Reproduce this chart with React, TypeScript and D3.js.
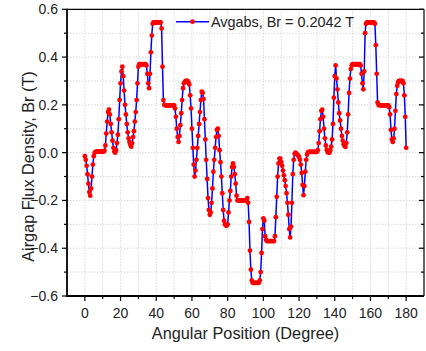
import React from 'react';
import * as d3 from 'd3';

// Radial airgap flux density sampled every half degree, in three 60° segments.
const ANGLE_STEP = 0.5;
const segmentStarts = [0, 60, 120];

// 0° – 59.5°
const brSeg1 = [
  -0.015, -0.03, -0.055, -0.09, -0.13, -0.165, -0.18, -0.15, -0.1, -0.05,
  -0.015, 0.0, 0.003, 0.004, 0.004, 0.004, 0.004, 0.004, 0.004, 0.004,
  0.004, 0.005, 0.008, 0.03, 0.08, 0.13, 0.17, 0.18, 0.16, 0.12,
  0.085, 0.05, 0.02, 0.005, 0.0, 0.01, 0.04, 0.075, 0.14, 0.22,
  0.29, 0.34, 0.36, 0.32, 0.26, 0.2, 0.16, 0.12, 0.085, 0.06,
  0.045, 0.032, 0.025, 0.04, 0.065, 0.09, 0.13, 0.17, 0.22, 0.29,
  0.36, 0.37, 0.37, 0.37, 0.37, 0.37, 0.37, 0.37, 0.37, 0.365,
  0.33, 0.29, 0.27, 0.33, 0.42, 0.49, 0.54, 0.545, 0.545, 0.545,
  0.545, 0.545, 0.545, 0.545, 0.545, 0.545, 0.52, 0.36, 0.22, 0.2,
  0.198, 0.198, 0.198, 0.198, 0.198, 0.198, 0.198, 0.198, 0.198, 0.198,
  0.198, 0.185, 0.15, 0.1, 0.065, 0.045, 0.07, 0.115, 0.165, 0.22,
  0.27, 0.29, 0.295, 0.3, 0.3, 0.3, 0.295, 0.285, 0.24, 0.185,
];

// 60° – 119.5°
const brSeg2 = [
  0.1, 0.02, -0.05, -0.1, -0.075, -0.03, 0.02, 0.07, 0.12, 0.17,
  0.22, 0.255, 0.25, 0.225, 0.14, 0.055, -0.03, -0.11, -0.19, -0.24,
  -0.26, -0.25, -0.21, -0.15, -0.08, -0.03, 0.02, 0.065, 0.095, 0.1,
  0.07, 0.01, -0.04, -0.1, -0.17, -0.24, -0.285, -0.3, -0.305, -0.305,
  -0.3, -0.25, -0.2, -0.16, -0.1, -0.06, -0.045, -0.06, -0.09, -0.13,
  -0.18, -0.2, -0.2, -0.2, -0.2, -0.2, -0.2, -0.2, -0.2, -0.2,
  -0.2, -0.2, -0.19, -0.21, -0.29, -0.41, -0.49, -0.535, -0.545, -0.545,
  -0.545, -0.545, -0.545, -0.545, -0.545, -0.545, -0.535, -0.5, -0.42, -0.32,
  -0.275, -0.285, -0.35, -0.365, -0.37, -0.37, -0.37, -0.37, -0.37, -0.37,
  -0.37, -0.37, -0.37, -0.35, -0.27, -0.185, -0.1, -0.045, -0.025, -0.025,
  -0.04, -0.055, -0.075, -0.095, -0.115, -0.14, -0.17, -0.21, -0.26, -0.32,
  -0.355, -0.31, -0.21, -0.09, -0.03, -0.005, 0.0, -0.005, -0.008, -0.012,
];

// 120° – 180°
const brSeg3 = [
  -0.018, -0.03, -0.05, -0.085, -0.135, -0.178, -0.14, -0.08, -0.03, -0.008,
  0.002, 0.003, 0.003, 0.003, 0.003, 0.003, 0.003, 0.003, 0.003, 0.003,
  0.003, 0.01, 0.04, 0.09, 0.14, 0.175, 0.18, 0.15, 0.1, 0.06,
  0.03, 0.012, 0.003, 0.0, 0.0, 0.01, 0.025, 0.055, 0.12, 0.23,
  0.32, 0.365, 0.31, 0.265, 0.21, 0.165, 0.135, 0.1, 0.07, 0.05,
  0.035, 0.028, 0.024, 0.04, 0.085, 0.16, 0.25, 0.31, 0.35, 0.365,
  0.37, 0.37, 0.37, 0.37, 0.37, 0.37, 0.37, 0.37, 0.37, 0.365,
  0.33, 0.29, 0.265, 0.34, 0.5, 0.54, 0.545, 0.545, 0.545, 0.545,
  0.545, 0.545, 0.545, 0.545, 0.545, 0.54, 0.45, 0.33, 0.21, 0.2,
  0.198, 0.198, 0.198, 0.198, 0.198, 0.198, 0.198, 0.198, 0.198, 0.198,
  0.198, 0.19, 0.16, 0.095, 0.055, 0.045, 0.06, 0.1, 0.175, 0.245,
  0.28, 0.295, 0.3, 0.3, 0.3, 0.3, 0.3, 0.29, 0.24, 0.15,
  0.02,
];

const xTicks = [0, 20, 40, 60, 80, 100, 120, 140, 160, 180];
const xMinorTicks = [10, 30, 50, 70, 90, 110, 130, 150, 170];
const yTicks = [-0.6, -0.4, -0.2, 0.0, 0.2, 0.4, 0.6];
const yMinorTicks = [-0.5, -0.3, -0.1, 0.1, 0.3, 0.5];
const gridX = [0, 10, 20, 30, 40, 50, 60, 70, 80, 90, 100, 110, 120, 130, 140, 150, 160, 170, 180];
const gridY = [-0.5, -0.4, -0.3, -0.2, -0.1, 0.0, 0.1, 0.2, 0.3, 0.4, 0.5];

const xTitle = 'Angular Position (Degree)';
const yTitle = 'Airgap Flux Density, Br (T)';
const legendLabel = 'Avgabs, Br = 0.2042 T';

const FONT = "'Liberation Sans', Arial, Helvetica, sans-serif";
const LINE_COLOR = '#0000ff';
const MARK_COLOR = '#ff0000';

type Pt = { a: number; v: number };

export default function App() {
  const W = 426;
  const H = 351;
  const left = 67;
  const right = 424;
  const top = 9.3;
  const bottom = 296;

  const x = d3.scaleLinear().domain([-10, 190]).range([left, right]);
  const y = d3.scaleLinear().domain([-0.6, 0.6]).range([bottom, top]);

  const points: Pt[] = [brSeg1, brSeg2, brSeg3].flatMap((seg, k) =>
    seg.map((v, i) => ({ a: segmentStarts[k] + i * ANGLE_STEP, v }))
  );

  const linePath = d3
    .line<Pt>()
    .x((d) => x(d.a))
    .y((d) => y(d.v))(points) as string;

  const fmtY = d3.format('.1f');

  const legY = 21.7;
  const legX0 = 176;
  const legX1 = 209;

  return (
    <svg
      width={W}
      height={H}
      viewBox={`0 0 ${W} ${H}`}
      style={{ position: 'absolute', left: 0, top: 0, background: '#ffffff' }}
      fontFamily={FONT}
    >
      <rect x={0} y={0} width={W} height={H} fill="#ffffff" />

      {/* grid */}
      <g stroke="#cfcfcf" strokeWidth={0.8} strokeDasharray="1.5,1.5">
        {gridX.map((g) => (
          <line key={`gx${g}`} x1={x(g)} x2={x(g)} y1={top} y2={bottom} />
        ))}
        {gridY.map((g) => (
          <line key={`gy${g}`} x1={left} x2={right} y1={y(g)} y2={y(g)} />
        ))}
      </g>

      {/* series */}
      <path d={linePath} fill="none" stroke={LINE_COLOR} strokeWidth={1.5} />
      <g fill={MARK_COLOR}>
        {points.map((p, i) => (
          <circle key={i} cx={x(p.a)} cy={y(p.v)} r={2.4} />
        ))}
      </g>

      {/* frame */}
      <line x1={left} x2={right} y1={top} y2={top} stroke="#000" strokeWidth={1.2} />
      <line x1={right} x2={right} y1={top} y2={bottom} stroke="#000" strokeWidth={1.2} />
      <line x1={left} x2={left} y1={top - 0.6} y2={bottom + 0.9} stroke="#000" strokeWidth={1.8} />
      <line x1={left - 0.9} x2={right} y1={bottom} y2={bottom} stroke="#000" strokeWidth={1.8} />

      {/* bottom axis ticks & labels */}
      <g stroke="#000" strokeWidth={1.2}>
        {xTicks.map((t) => (
          <line key={`xt${t}`} x1={x(t)} x2={x(t)} y1={bottom} y2={bottom + 5} />
        ))}
        {xMinorTicks.map((t) => (
          <line key={`xm${t}`} x1={x(t)} x2={x(t)} y1={bottom} y2={bottom + 3} />
        ))}
      </g>
      <g fontSize={14} textAnchor="middle" fill="#222">
        {xTicks.map((t) => (
          <text key={`xl${t}`} x={x(t)} y={318}>
            {t}
          </text>
        ))}
      </g>

      {/* left axis ticks & labels */}
      <g stroke="#000" strokeWidth={1.2}>
        {yTicks.map((t) => (
          <line key={`yt${t}`} x1={left - 5} x2={left} y1={y(t)} y2={y(t)} />
        ))}
        {yMinorTicks.map((t) => (
          <line key={`ym${t}`} x1={left - 3} x2={left} y1={y(t)} y2={y(t)} />
        ))}
      </g>
      <g fontSize={14} textAnchor="end" fill="#222">
        {yTicks.map((t) => (
          <text key={`yl${t}`} x={58} y={y(t) + 5}>
            {fmtY(t)}
          </text>
        ))}
      </g>

      {/* right axis inward ticks */}
      <g stroke="#000" strokeWidth={1.2}>
        {yTicks.map((t) => (
          <line key={`rt${t}`} x1={right - 5} x2={right} y1={y(t)} y2={y(t)} />
        ))}
        {yMinorTicks.map((t) => (
          <line key={`rm${t}`} x1={right - 3} x2={right} y1={y(t)} y2={y(t)} />
        ))}
      </g>

      {/* axis titles */}
      <text x={(left + right) / 2} y={339} fontSize={16.3} textAnchor="middle" fill="#222">
        {xTitle}
      </text>
      <text
        transform={`translate(34, 166.5) rotate(-90)`}
        fontSize={16.3}
        textAnchor="middle"
        fill="#222"
      >
        {yTitle}
      </text>

      {/* legend */}
      <line x1={legX0} x2={legX1} y1={legY} y2={legY} stroke={LINE_COLOR} strokeWidth={1.5} />
      <circle cx={(legX0 + legX1) / 2} cy={legY} r={2.4} fill={MARK_COLOR} />
      <text x={211} y={27} fontSize={14.4} fill="#222">
        {legendLabel}
      </text>
    </svg>
  );
}
